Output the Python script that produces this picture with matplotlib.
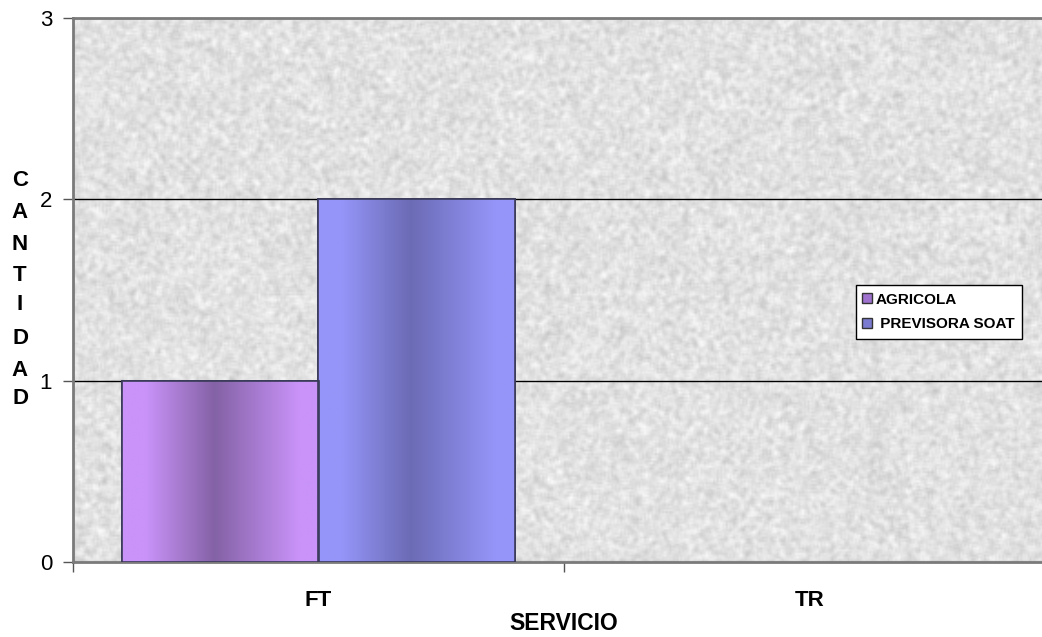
import numpy as np
import matplotlib
matplotlib.use("Agg")
import matplotlib.pyplot as plt
from matplotlib.colors import LinearSegmentedColormap
from matplotlib.lines import Line2D

categories = ["FT", "TR"]
series_names = ["AGRICOLA", "PREVISORA SOAT"]
agricola = [1, 0]
previsora = [2, 0]
y_ticks = [0, 1, 2, 3]
x_title = "SERVICIO"
y_title = "CANTIDAD"

light = ["#C993F9", "#9595F9"]
dark = ["#8462A6", "#6B6BB5"]

plt.rcParams['font.family'] = ['Liberation Sans', 'DejaVu Sans']

W, H = 1042, 637
fig = plt.figure(figsize=(W / 100, H / 100), dpi=100)
left_px, right_px, top_px, bot_px = 73, 1055, 18, 562
ax = fig.add_axes([left_px / W, 1 - bot_px / H, (right_px - left_px) / W, (bot_px - top_px) / H])

# granite texture background
rng = np.random.default_rng(3)
noise = rng.random((300, 540))
k = np.ones(3) / 3
noise = np.apply_along_axis(lambda r: np.convolve(r, k, mode='same'), 1, noise)
noise = np.apply_along_axis(lambda c: np.convolve(c, k, mode='same'), 0, noise)
noise = (noise - noise.min()) / (noise.max() - noise.min())
tex = 0.76 + 0.24 * noise
ax.imshow(tex, cmap='gray', vmin=0, vmax=1, extent=[0, 2, 0, 3], aspect='auto',
          zorder=0, interpolation='bilinear')

x = np.arange(len(categories)) + 0.5
bw = 0.4
for i, (vals, name) in enumerate(zip([agricola, previsora], series_names)):
    bars = ax.bar(x + (i - 0.5) * bw, vals, width=bw, facecolor=light[i],
                  edgecolor='#333355', linewidth=1.2, zorder=3, label=name)
    cmap = LinearSegmentedColormap.from_list(
        f"g{i}", [(0, light[i]), (0.12, light[i]), (0.47, dark[i]), (0.9, light[i]), (1, light[i])])
    grad = np.linspace(0, 1, 256)[None, :]
    for rect, v in zip(bars, vals):
        if v <= 0:
            rect.set_visible(False)
            continue
        x0 = rect.get_x()
        im = ax.imshow(grad, cmap=cmap, extent=[x0, x0 + rect.get_width(), 0, v],
                       aspect='auto', zorder=3.5, interpolation='bilinear')
        im.set_clip_path(rect)
        ax.bar(rect.get_x() + rect.get_width() / 2, v, width=rect.get_width(),
               facecolor='none', edgecolor='#3a3a5a', linewidth=1.2, zorder=4)

ax.set_xlim(0, 2)
ax.set_ylim(0, 3)

for yv in y_ticks[1:3]:
    ax.axhline(yv, color='black', linewidth=1, zorder=1)

ax.set_yticks(y_ticks)
ax.set_yticklabels([str(v) for v in y_ticks], fontsize=16)
ax.tick_params(axis='y', direction='out', length=7, width=1, color='#555555', pad=8)

ax.set_xticks([0, 1, 2])
ax.set_xticklabels(["", "", ""])
ax.tick_params(axis='x', which='major', direction='out', length=7, width=1, color='#555555')
ax.set_xticks(x, minor=True)
ax.set_xticklabels(categories, minor=True, fontsize=16, fontweight='bold')
ax.tick_params(axis='x', which='minor', length=0, pad=20)

for s in ['top', 'left', 'bottom']:
    ax.spines[s].set_color('#7a7a7a')
    ax.spines[s].set_linewidth(2)
ax.spines['right'].set_visible(False)

ax.set_xlabel(x_title, fontsize=16.5, fontweight='bold', labelpad=1)

ys = [180, 212, 245, 275, 305, 338, 370, 398]
for ch, yp in zip(y_title, ys):
    fig.text(20 / W, 1 - yp / H, ch, fontsize=16, fontweight='bold', ha='center', va='center')

handles = [Line2D([], [], marker='s', linestyle='none', markersize=7,
                  markerfacecolor=c, markeredgecolor='#333333', markeredgewidth=1)
           for c in ["#9E72CE", "#7A7AD0"]]
leg = fig.legend(handles, ["AGRICOLA", " PREVISORA SOAT"], loc='upper left',
                 bbox_to_anchor=(856 / W, 1 - 285 / H), frameon=True, fancybox=False,
                 prop={'weight': 'bold', 'size': 11}, handlelength=0.5, handletextpad=0.3,
                 labelspacing=0.7, borderpad=0.5, borderaxespad=0)
leg.get_frame().set_edgecolor('black')
leg.get_frame().set_linewidth(1)
leg.get_frame().set_facecolor('white')
leg.get_frame().set_alpha(1)

fig.savefig("out.png", dpi=100)
